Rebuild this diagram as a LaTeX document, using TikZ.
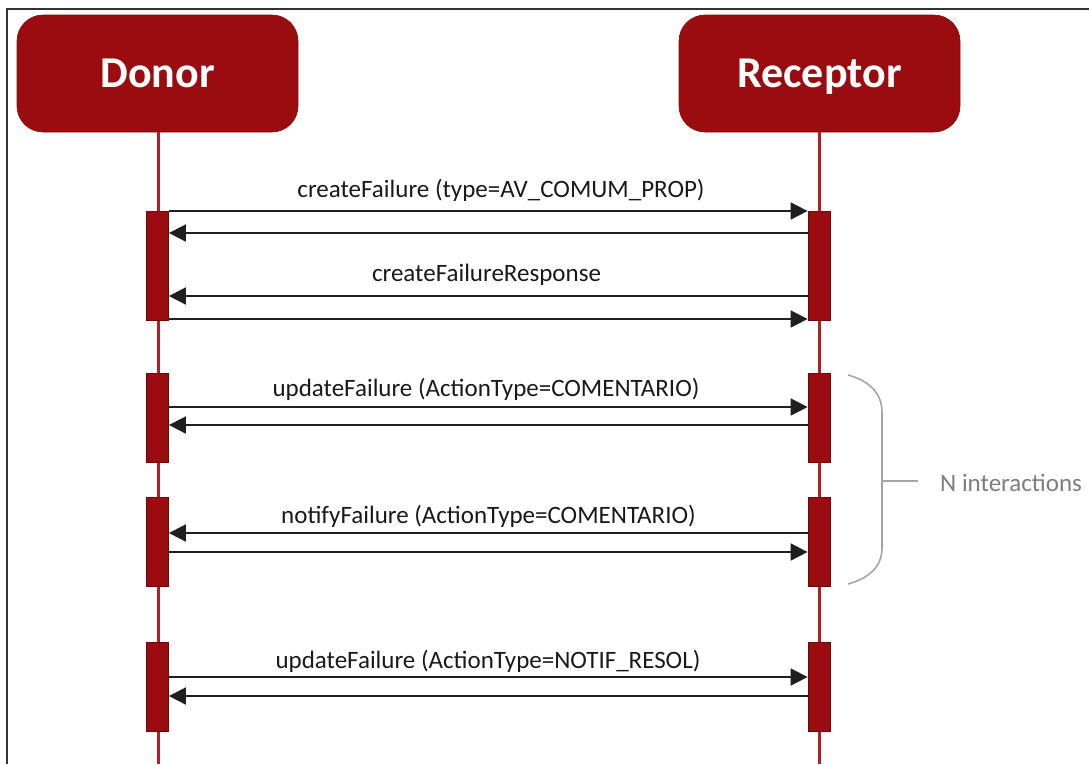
\documentclass[tikz,border=0pt]{standalone}
\usepackage{fontspec}
\setmainfont{Carlito}
\usetikzlibrary{arrows.meta}
\definecolor{hdr}{RGB}{155,12,16}
\definecolor{life}{RGB}{180,30,36}
\definecolor{brk}{RGB}{165,165,168}
\definecolor{notegray}{RGB}{125,125,130}

\begin{document}
\begin{tikzpicture}[x=1pt,y=-1pt,
  actor/.style={draw=hdr!85!black, line width=0.6pt, fill=hdr, rounded corners=26pt,
    minimum width=281pt, minimum height=117pt, text=white, inner sep=0pt,
    text height=28pt, text depth=0pt,
    font=\fontsize{44}{50}\selectfont\bfseries},
  actbar/.style={draw=hdr!70!black, line width=0.8pt, fill=hdr, minimum width=22pt, inner sep=0pt},
  lifeline/.style={draw=life, line width=3pt},
  msg/.style={draw=black!88, line width=1.8pt, -{Triangle[length=17pt,width=17pt]}},
  lbl/.style={font=\fontsize{25}{30}\selectfont, text=black!90, inner sep=0pt},
  bracket/.style={draw=brk, line width=1.6pt}
]
\useasboundingbox (0,0) rectangle (1089,764);

% frame
\draw[black!80, line width=1.2pt] (7,764) -- (7,9) -- (1089,9);

% participants
\node[actor] (donor) at (157.5,73.5) {Donor};
\node[actor] (recv) at (819.5,73.5) {Receptor};

% lifelines
\coordinate (dEnd) at (158,764);
\coordinate (rEnd) at (819,764);
\draw[lifeline] (donor.south -| dEnd) -- (dEnd);
\draw[lifeline] (recv.south -| rEnd) -- (rEnd);

% activation bars
\node[actbar, minimum height=109pt] (d1) at (157.5,265.5) {};
\node[actbar, minimum height=89pt]  (d2) at (157.5,417.5) {};
\node[actbar, minimum height=89pt]  (d3) at (157.5,541.5) {};
\node[actbar, minimum height=89pt]  (d4) at (157.5,686.5) {};
\node[actbar, minimum height=109pt] (r1) at (819,265.5) {};
\node[actbar, minimum height=89pt]  (r2) at (819,417.5) {};
\node[actbar, minimum height=89pt]  (r3) at (819,541.5) {};
\node[actbar, minimum height=89pt]  (r4) at (819,686.5) {};

% messages
\draw[msg] (d1.east |- 0,211) -- (r1.west |- 0,211);
\draw[msg] (r1.west |- 0,233) -- (d1.east |- 0,233);
\draw[msg] (r1.west |- 0,296) -- (d1.east |- 0,296);
\draw[msg] (d1.east |- 0,319) -- (r1.west |- 0,319);

\draw[msg] (d2.east |- 0,407) -- (r2.west |- 0,407);
\draw[msg] (r2.west |- 0,425) -- (d2.east |- 0,425);

\draw[msg] (r3.west |- 0,533) -- (d3.east |- 0,533);
\draw[msg] (d3.east |- 0,552) -- (r3.west |- 0,552);

\draw[msg] (d4.east |- 0,677) -- (r4.west |- 0,677);
\draw[msg] (r4.west |- 0,696) -- (d4.east |- 0,696);

% message labels
\node[lbl] (m1) at (501,190) {createFailure (type=AV\_COMUM\_PROP)};
\node[lbl] (m2) at (486.5,275) {createFailureResponse};
\node[lbl] (m3) at (486,389) {updateFailure (ActionType=COMENTARIO)};
\node[lbl] (m4) at (488.5,516) {notifyFailure (ActionType=COMENTARIO)};
\node[lbl] (m5) at (488,661) {updateFailure (ActionType=NOTIF\_RESOL)};

% repeated-interaction bracket
\draw[bracket] (848,375) .. controls (870,381) and (882,394) .. (882,412)
  -- (882,548) .. controls (882,566) and (870,578) .. (848,584);
\coordinate (bmid) at (882,481);
\node[lbl, text=notegray, anchor=west] (note) at (940,483) {N interactions};
\draw[bracket] (bmid) -- ([xshift=-22pt]note.west |- bmid);
\end{tikzpicture}
\end{document}
